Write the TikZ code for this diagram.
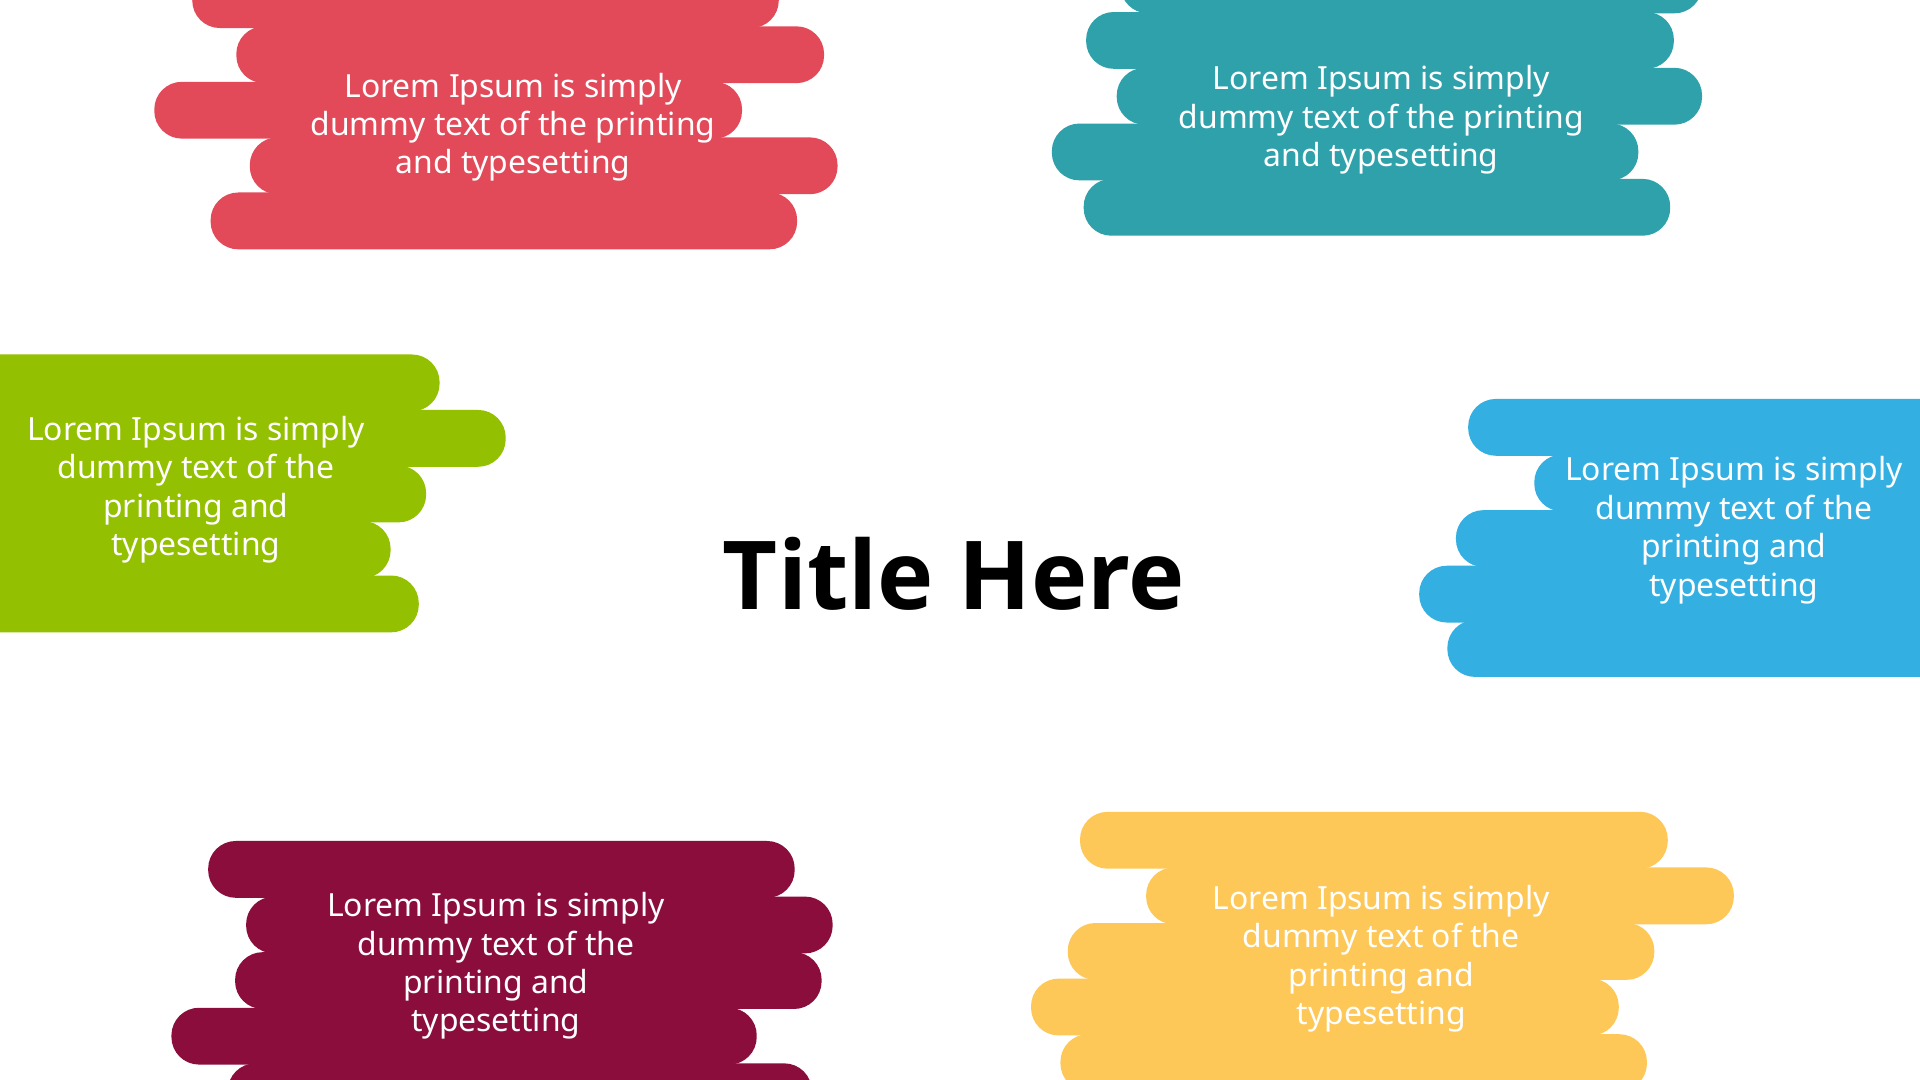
\documentclass[tikz,border=0pt]{standalone}
\usepackage{fontspec}
\setmainfont{Noto Sans}
\newfontfamily\titlefont{Open Sans}
\definecolor{cRed}{HTML}{E24A59}
\definecolor{cTeal}{HTML}{2FA1AB}
\definecolor{cGreen}{HTML}{93C001}
\definecolor{cBlue}{HTML}{34AFE2}
\definecolor{cMaroon}{HTML}{8B0D3C}
\definecolor{cYellow}{HTML}{FDC857}
\tikzset{
  barstroke/.style={rounded corners=27.6bp},
  bodytext/.style={text=white, align=center, inner sep=0pt, font=\fontsize{32}{38.5}\selectfont},
  titletext/.style={text=black, inner sep=0pt, font=\titlefont\bfseries\fontsize{95.5}{110}\selectfont}
}
\newcommand{\brushbar}[4]{\fill[#1, barstroke] (#2,#4) rectangle (#3,#4+46.4);}
\begin{document}
\begin{tikzpicture}[x=1.2245bp, y=-1.2245bp]
\useasboundingbox (0,0) rectangle (1568,882);
\fill[white] (0,0) rectangle (1568,882);
\begin{scope}
\clip (0,0) rectangle (1568,882);
% red (top left)
\brushbar{cRed}{157}{636}{-23.5}
\brushbar{cRed}{193}{673}{21.5}
\brushbar{cRed}{126}{606}{66.8}
\brushbar{cRed}{204}{684}{112.2}
\brushbar{cRed}{172}{651}{157.2}
% teal (top right)
\brushbar{cTeal}{915}{1390}{-35.5}
\brushbar{cTeal}{887}{1367}{9.8}
\brushbar{cTeal}{912}{1390}{55.4}
\brushbar{cTeal}{859}{1338}{100.9}
\brushbar{cTeal}{885}{1364}{146.1}
% green (left)
\brushbar{cGreen}{-300}{359}{289.5}
\brushbar{cGreen}{-300}{413}{334.8}
\brushbar{cGreen}{-300}{348}{380.2}
\brushbar{cGreen}{-300}{319}{425.6}
\brushbar{cGreen}{-300}{342}{470.0}
% blue (right)
\brushbar{cBlue}{1199}{1900}{325.8}
\brushbar{cBlue}{1253}{1900}{371.2}
\brushbar{cBlue}{1189}{1900}{416.6}
\brushbar{cBlue}{1159}{1900}{462.0}
\brushbar{cBlue}{1182}{1900}{506.4}
% maroon (bottom left)
\brushbar{cMaroon}{170}{649}{686.8}
\brushbar{cMaroon}{201}{680}{732.2}
\brushbar{cMaroon}{192}{671}{777.6}
\brushbar{cMaroon}{140}{618}{823.0}
\brushbar{cMaroon}{186}{663}{868.4}
% yellow (bottom right)
\brushbar{cYellow}{882}{1362}{663.0}
\brushbar{cYellow}{936}{1416}{708.4}
\brushbar{cYellow}{872}{1351}{753.8}
\brushbar{cYellow}{842}{1322}{799.2}
\brushbar{cYellow}{866}{1345}{844.6}
\end{scope}
\node[bodytext] (tRed) at (419,104) {Lorem Ipsum is simply\\dummy text of the printing\\and typesetting};
\node[bodytext] (tTeal) at (1128,98) {Lorem Ipsum is simply\\dummy text of the printing\\and typesetting};
\node[bodytext] (tGreen) at (160,400) {Lorem Ipsum is simply\\dummy text of the\\printing and\\typesetting};
\node[bodytext] (tBlue) at (1416,433) {Lorem Ipsum is simply\\dummy text of the\\printing and\\typesetting};
\node[bodytext] (tMaroon) at (405,789) {Lorem Ipsum is simply\\dummy text of the\\printing and\\typesetting};
\node[bodytext] (tYellow) at (1128,783) {Lorem Ipsum is simply\\dummy text of the\\printing and\\typesetting};
\node[titletext] (title) at (779,469) {Title Here};
\end{tikzpicture}
\end{document}
